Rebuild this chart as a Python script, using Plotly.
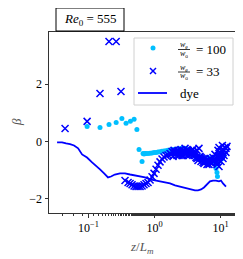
import plotly.graph_objects as go

# ---- data ----
w100_x = [0.095, 0.149, 0.204, 0.262, 0.32, 0.37, 0.43, 0.49, 0.54, 0.582, 0.647,
          0.669, 0.693, 0.718, 0.743, 0.797, 0.855, 0.917, 0.983, 1.054, 1.13, 1.211,
          1.299, 1.393, 1.494, 1.602, 1.718, 1.842, 1.975, 2.118, 2.27, 2.43, 2.61,
          2.80, 3.00, 3.22, 3.45, 3.70, 3.97, 4.25, 4.56, 4.89, 5.25, 5.62, 6.03,
          6.46, 6.93, 7.43, 7.97, 8.25, 8.55, 8.85, 9.0, 9.17, 9.83, 10.54, 11.30]
w100_beta = [0.52, 0.49, 0.59, 0.66, 0.80, 0.63, 0.70, 0.77, 0.42, -0.28, -0.70,
             -0.42, -0.44, -0.42, -0.42, -0.42, -0.41, -0.40, -0.38, -0.38, -0.37, -0.36,
             -0.34, -0.33, -0.32, -0.31, -0.30, -0.29, -0.28, -0.27, -0.26, -0.25, -0.24,
             -0.24, -0.26, -0.28, -0.31, -0.38, -0.45, -0.56, -0.59, -0.52, -0.56, -0.59, -0.63,
             -0.56, -0.59, -0.66, -0.70, -0.80, -0.94, -1.08, -1.22, -0.73, -0.66, -0.59, -0.49]

w33_x = [0.044, 0.095, 0.149, 0.204, 0.262, 0.31,
         0.357, 0.397, 0.426, 0.456, 0.489, 0.524, 0.562, 0.603, 0.647, 0.693, 0.743,
         0.797, 0.855, 0.917, 0.983, 1.054, 1.13, 1.211, 1.299, 1.393, 1.494, 1.602,
         1.718, 1.842, 1.908, 1.975, 2.045, 2.118, 2.193, 2.27, 2.35, 2.43, 2.52, 2.61,
         2.70, 2.80, 2.90, 3.00, 3.11, 3.22, 3.33, 3.45, 3.57, 3.70, 3.83, 3.97, 4.11,
         4.25, 4.40, 4.56, 4.72, 4.89, 5.07, 5.25, 5.43, 5.62, 5.82, 6.03, 6.24, 6.46,
         6.69, 6.93, 7.18, 7.43, 7.70, 7.97, 8.25, 8.55, 8.85, 8.85, 9.17, 9.49, 9.49,
         9.83, 10.18, 10.18, 10.54, 10.7, 10.91, 11.30, 11.70, 12.11, 12.54,
         1.779, 1.908, 2.118, 2.35, 2.52, 2.70, 2.90, 3.11, 3.33, 3.57, 3.83, 4.11,
         4.40, 4.72, 5.07, 5.43, 5.82, 6.24, 6.69, 7.18, 7.70, 8.25, 8.85, 9.17,
         9.83, 10.91, 11.30, 12.11]
w33_beta = [0.45, 0.70, 1.67, 3.48, 3.48, 1.74,
            -1.36, -1.43, -1.46, -1.51, -1.55, -1.57, -1.57, -1.57, -1.55, -1.51, -1.46,
            -1.43, -1.34, -1.23, -1.11, -0.97, -0.83, -0.71, -0.61, -0.54, -0.49, -0.47,
            -0.42, -0.35, -0.52, -0.31, -0.38, -0.42, -0.49, -0.31, -0.38, -0.45, -0.28, -0.49,
            -0.38, -0.35, -0.24, -0.42, -0.38, -0.31, -0.49, -0.42, -0.35, -0.31, -0.28, -0.45, -0.38,
            -0.56, -0.31, -0.66, -0.24, -0.52, -0.70, -0.59, -0.63, -0.77, -0.70, -0.66, -0.80, -0.66,
            -0.70, -0.59, -0.73, -0.77, -0.56, -0.66, -0.45, -0.73, -0.59, -0.80, -0.31, -0.21, -0.87,
            -0.52, -0.70, -0.49, -0.35, -0.14, -0.28, -0.49, -0.21, -0.38, -0.17,
            -0.45, -0.38, -0.35, -0.49, -0.38, -0.49, -0.35, -0.49, -0.35, -0.45, -0.38, -0.49,
            -0.59, -0.56, -0.56, -0.73, -0.59, -0.66, -0.80, -0.63, -0.70, -0.59, -0.70, -0.52,
            -0.38, -0.59, -0.31, -0.24]

dye_x = [0.0333, 0.0397, 0.0456, 0.0524, 0.0603, 0.0694, 0.0797, 0.0948, 0.113, 0.130,
         0.149, 0.172, 0.197, 0.219, 0.25, 0.300, 0.357, 0.426, 0.507, 0.603, 0.718,
         0.855, 1.02, 1.211, 1.44, 1.718, 2.045, 2.43, 2.90, 3.45, 4.11, 4.56, 5.07,
         5.62, 6.24, 6.93, 7.70, 8.55, 9.49, 10.18, 10.91, 12.11]
dye_beta = [-0.03, -0.03, -0.07, -0.09, -0.14, -0.24, -0.45, -0.56, -0.73, -0.87,
            -0.97, -1.11, -1.25, -1.22, -1.15, -1.11, -1.11, -1.15, -1.18, -1.22, -1.25,
            -1.32, -1.36, -1.39, -1.43, -1.46, -1.53, -1.57, -1.63, -1.67, -1.70, -1.70, -1.67,
            -1.60, -1.50, -1.39, -1.36, -1.36, -1.39, -1.36, -1.46, -1.57]

x_tick_vals = [0.1, 1, 10]
x_tick_text = ["10<sup>−1</sup>", "10<sup>0</sup>", "10<sup>1</sup>"]
y_tick_vals = [-2, 0, 2]
y_tick_text = ["−2", "0", "2"]

CYAN = "#00BFFF"
BLUE = "#0000FF"
FONT = "Liberation Serif"

fig = go.Figure()
fig.add_trace(go.Scatter(x=w100_x, y=w100_beta, mode="markers",
                         marker=dict(color=CYAN, size=5)))
fig.add_trace(go.Scatter(x=w33_x, y=w33_beta, mode="markers",
                         marker=dict(symbol="x-thin", size=7, color=BLUE,
                                     line=dict(color=BLUE, width=1.5))))
fig.add_trace(go.Scatter(x=dye_x, y=dye_beta, mode="lines",
                         line=dict(color=BLUE, width=1.8)))

# page body adds an 8 px offset, so the figure is sized to fit the window
OFF = 8
W, H = 243 - OFF, 259 - OFF
L, R, T, B = 41, 8, 24, 46
PW, PH = W - L - R, H - T - B


def px(x):  # window pixel -> paper x
    return (x - OFF - L) / PW


def py(y):  # window pixel -> paper y
    return (H - B - (y - OFF)) / PH


shapes = []
annotations = []

# title box
shapes.append(dict(type="rect", xref="paper", yref="paper",
                   x0=px(56), x1=px(124), y0=py(31), y1=py(8),
                   line=dict(color="black", width=1), fillcolor="white"))
annotations.append(dict(xref="paper", yref="paper", x=px(90), y=py(19.5),
                        text="<i>Re</i><sub>0</sub> = 555", showarrow=False,
                        font=dict(family=FONT, size=13, color="black"),
                        xanchor="center", yanchor="middle"))

# legend box
shapes.append(dict(type="rect", xref="paper", yref="paper",
                   x0=px(134), x1=px(233), y0=py(105), y1=py(38),
                   line=dict(color="#d0d0d0", width=1), fillcolor="rgba(255,255,255,0.8)"))
# legend symbols
shapes.append(dict(type="circle", xref="paper", yref="paper",
                   x0=px(150.5), x1=px(155.5), y0=py(50.5), y1=py(45.5),
                   line=dict(color=CYAN, width=0), fillcolor=CYAN))
shapes.append(dict(type="line", xref="paper", yref="paper",
                   x0=px(150), x1=px(156), y0=py(68), y1=py(74),
                   line=dict(color=BLUE, width=1.5)))
shapes.append(dict(type="line", xref="paper", yref="paper",
                   x0=px(150), x1=px(156), y0=py(74), y1=py(68),
                   line=dict(color=BLUE, width=1.5)))
shapes.append(dict(type="line", xref="paper", yref="paper",
                   x0=px(138), x1=px(167), y0=py(93), y1=py(93),
                   line=dict(color=BLUE, width=1.8)))

# legend texts (fractions)
for yc, val in [(49, "100"), (71.5, "33")]:
    annotations.append(dict(xref="paper", yref="paper", x=px(184), y=py(yc - 4),
                            text="<i>w</i><sub>e</sub>", showarrow=False,
                            font=dict(family=FONT, size=8, color="black"),
                            xanchor="center", yanchor="middle", height=8))
    annotations.append(dict(xref="paper", yref="paper", x=px(184), y=py(yc + 4.5),
                            text="<i>w</i><sub>o</sub>", showarrow=False,
                            font=dict(family=FONT, size=8, color="black"),
                            xanchor="center", yanchor="middle", height=8))
    shapes.append(dict(type="line", xref="paper", yref="paper",
                       x0=px(178), x1=px(190), y0=py(yc + 0.5), y1=py(yc + 0.5),
                       line=dict(color="black", width=0.8)))
    annotations.append(dict(xref="paper", yref="paper", x=px(194), y=py(yc),
                            text="= " + val, showarrow=False,
                            font=dict(family=FONT, size=13, color="black"),
                            xanchor="left", yanchor="middle"))
annotations.append(dict(xref="paper", yref="paper", x=px(178), y=py(93),
                        text="dye", showarrow=False,
                        font=dict(family=FONT, size=13, color="black"),
                        xanchor="left", yanchor="middle"))

# axis labels
annotations.append(dict(xref="paper", yref="paper", x=px(17), y=py(122),
                        text="<i>β</i>", showarrow=False, textangle=-90,
                        font=dict(family=FONT, size=13, color="#555"),
                        xanchor="center", yanchor="middle"))
annotations.append(dict(xref="paper", yref="paper", x=px(142), y=py(247),
                        text="<i>z</i>/<i>L</i><sub><i>m</i></sub>", showarrow=False,
                        font=dict(family=FONT, size=13, color="#555"),
                        xanchor="center", yanchor="middle"))

axis_common = dict(showgrid=False, zeroline=False, showline=True, linecolor="#333",
                   linewidth=1, mirror=True, ticks="outside", ticklen=3.5,
                   tickwidth=1, tickcolor="#333",
                   tickfont=dict(family=FONT, size=12, color="black"))

fig.update_layout(
    width=W, height=H,
    margin=dict(l=L, r=R, t=T, b=B),
    paper_bgcolor="white", plot_bgcolor="white",
    showlegend=False,
    font=dict(family=FONT, size=12, color="black"),
    xaxis=dict(type="log", range=[-1.6, 1.22], tickvals=x_tick_vals,
               ticktext=x_tick_text,
               minor=dict(ticks="outside", ticklen=2, tickcolor="#333", showgrid=False),
               **axis_common),
    yaxis=dict(range=[-2.49, 3.81], tickvals=y_tick_vals, ticktext=y_tick_text,
               **axis_common),
    shapes=shapes,
    annotations=annotations,
)

fig.write_html("out.html")
